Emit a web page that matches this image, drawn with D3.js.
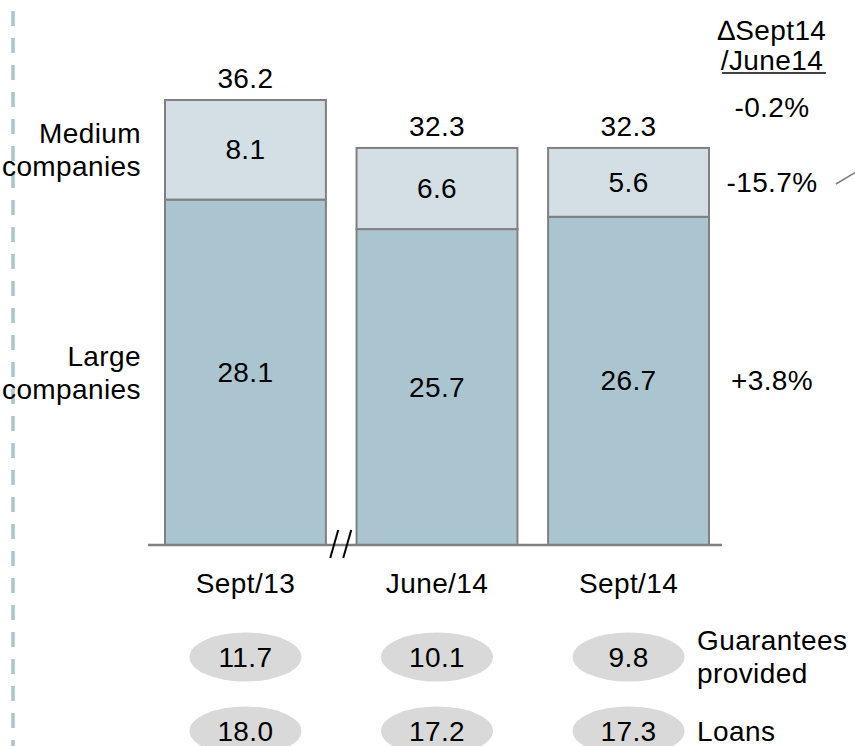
<!DOCTYPE html>
<html>
<head>
<meta charset="utf-8">
<script src="https://cdn.jsdelivr.net/npm/d3@7"></script>
<style>
  html, body { margin: 0; padding: 0; background: #fff; }
  svg text { font-family: "Liberation Sans", Arial, sans-serif; fill: #000; letter-spacing: 0.4px; }
</style>
</head>
<body>
<svg id="chart" width="855" height="746"></svg>
<script>
// Exposure by company size (EUR bn)
const categories = ["Sept/13", "June/14", "Sept/14"];
const largeValues = [28.1, 25.7, 26.7];
const mediumValues = [8.1, 6.6, 5.6];
const totalValues = [36.2, 32.3, 32.3];
const guarantees = [11.7, 10.1, 9.8];
const loans = [18.0, 17.2, 17.3];
const deltaHeader = ["\u2206Sept14", "/June14"];
const deltaLabels = ["-0.2%", "-15.7%", "+3.8%"];   // total, medium, large
const seriesNames = [["Medium", "companies"], ["Large", "companies"]];
const rowNames = [["Guarantees", "provided"], ["Loans"]];

const svg = d3.select("#chart");
const fs = 28;

const x = d3.scaleBand().domain(categories).range([165, 709]).paddingInner(0.16).paddingOuter(0);
const y = d3.scaleLinear().domain([0, 36.2]).range([545, 100]);

const colMedium = "#d3dfe5", colLarge = "#aac5cf", colEdge = "#808080";

// dashed rule on the left edge
svg.append("line")
  .attr("x1", 13).attr("x2", 13).attr("y1", 11).attr("y2", 746)
  .attr("stroke", "#a9c6cc").attr("stroke-width", 3.5)
  .attr("stroke-dasharray", "15 12");

const stacks = categories.map((c, i) => ({ c, large: largeValues[i], medium: mediumValues[i], total: totalValues[i] }));

const g = svg.append("g");
// large companies segment
g.selectAll("rect.large").data(stacks).join("rect")
  .attr("class", "large")
  .attr("x", d => x(d.c)).attr("width", x.bandwidth())
  .attr("y", d => y(d.large)).attr("height", d => y(0) - y(d.large))
  .attr("fill", colLarge).attr("stroke", colEdge).attr("stroke-width", 2);
// medium companies segment
g.selectAll("rect.medium").data(stacks).join("rect")
  .attr("class", "medium")
  .attr("x", d => x(d.c)).attr("width", x.bandwidth())
  .attr("y", d => y(d.large + d.medium)).attr("height", d => y(d.large) - y(d.large + d.medium))
  .attr("fill", colMedium).attr("stroke", colEdge).attr("stroke-width", 2);

// segment value labels
g.selectAll("text.lv").data(stacks).join("text")
  .attr("x", d => x(d.c) + x.bandwidth() / 2)
  .attr("y", d => (y(0) + y(d.large)) / 2)
  .attr("text-anchor", "middle").attr("dominant-baseline", "central")
  .attr("font-size", fs).text(d => d.large.toFixed(1));
g.selectAll("text.mv").data(stacks).join("text")
  .attr("x", d => x(d.c) + x.bandwidth() / 2)
  .attr("y", d => (y(d.large) + y(d.large + d.medium)) / 2)
  .attr("text-anchor", "middle").attr("dominant-baseline", "central")
  .attr("font-size", fs).text(d => d.medium.toFixed(1));
// totals
g.selectAll("text.tv").data(stacks).join("text")
  .attr("x", d => x(d.c) + x.bandwidth() / 2)
  .attr("y", d => y(d.total) - 12)
  .attr("text-anchor", "middle")
  .attr("font-size", fs).text(d => d.total.toFixed(1));

// baseline axis
const axis = d3.axisBottom(x).tickSize(0).tickPadding(28);
const ax = svg.append("g").attr("transform", `translate(0,${y(0)})`).call(axis);
ax.select(".domain").attr("d", "M148,0H722").attr("stroke", colEdge).attr("stroke-width", 2.5);
ax.selectAll(".tick text").attr("font-size", fs).attr("font-family", "Liberation Sans, Arial, sans-serif").attr("fill", "#000");

// axis break marks between first and second bar
const bx = (x(categories[0]) + x.bandwidth() + x(categories[1])) / 2;
[-7, 6].forEach(o => {
  svg.append("line")
    .attr("x1", bx + o - 4).attr("y1", y(0) + 13)
    .attr("x2", bx + o + 4).attr("y2", y(0) - 15)
    .attr("stroke", "#000").attr("stroke-width", 2);
});

// series labels on the left
const labelY = [(y(largeValues[0]) + y(totalValues[0])) / 2, (y(0) + y(largeValues[0])) / 2];
seriesNames.forEach((lines, i) => {
  const t = svg.append("text").attr("text-anchor", "end").attr("font-size", fs);
  lines.forEach((s, k) => t.append("tspan").attr("x", 141)
    .attr("y", labelY[i] - 16 + k * 33).attr("dominant-baseline", "central").text(s));
});

// change column
const dx = 772;
svg.append("text").attr("x", dx).attr("y", 40).attr("text-anchor", "middle").attr("font-size", fs).text(deltaHeader[0]);
svg.append("text").attr("x", dx).attr("y", 70).attr("text-anchor", "middle").attr("font-size", fs).text(deltaHeader[1]);
svg.append("line").attr("x1", 722).attr("x2", 826).attr("y1", 73).attr("y2", 73).attr("stroke", "#000").attr("stroke-width", 1.5);
const deltaY = [y(totalValues[2]) - 40, (y(largeValues[2]) + y(totalValues[2])) / 2, (y(0) + y(largeValues[2])) / 2];
deltaLabels.forEach((s, i) => {
  svg.append("text").attr("x", dx).attr("y", deltaY[i]).attr("text-anchor", "middle")
    .attr("dominant-baseline", "central").attr("font-size", fs).text(s);
});
svg.append("line").attr("x1", 836).attr("y1", 184).attr("x2", 856).attr("y2", 172)
  .attr("stroke", "#808080").attr("stroke-width", 1.5);

// guarantees and loans bubbles
const rowY = [657, 731];
[guarantees, loans].forEach((vals, r) => {
  const row = svg.append("g");
  row.selectAll("ellipse").data(categories).join("ellipse")
    .attr("cx", d => x(d) + x.bandwidth() / 2).attr("cy", rowY[r])
    .attr("rx", 56).attr("ry", 24.5).attr("fill", "#d9d9d9");
  row.selectAll("text").data(categories).join("text")
    .attr("x", d => x(d) + x.bandwidth() / 2).attr("y", rowY[r])
    .attr("text-anchor", "middle").attr("dominant-baseline", "central")
    .attr("font-size", fs).text((d, i) => vals[i].toFixed(1));
});
rowNames.forEach((lines, r) => {
  const t = svg.append("text").attr("font-size", fs);
  const y0 = lines.length > 1 ? rowY[r] - 17 : rowY[r];
  lines.forEach((s, k) => t.append("tspan").attr("x", 697).attr("y", y0 + k * 33)
    .attr("dominant-baseline", "central").text(s));
});
</script>
</body>
</html>
